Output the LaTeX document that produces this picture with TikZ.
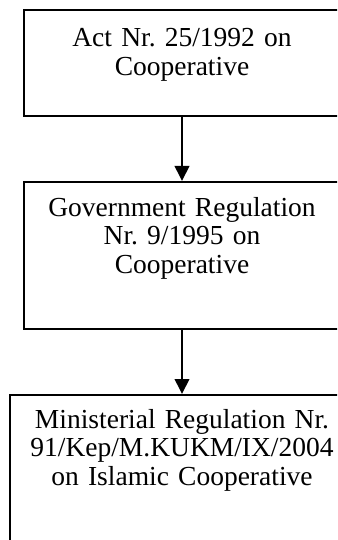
\documentclass[tikz,border=0pt]{standalone}
\usepackage{fontspec}
\setmainfont{Liberation Serif}
\usetikzlibrary{arrows.meta}
\begin{document}
\frenchspacing
\begin{tikzpicture}[x=1pt, y=-1pt,
    law/.style={draw, line width=2pt, inner sep=0pt, align=center,
                text width=316pt, anchor=base,
                font=\fontsize{27.5}{28.5}\selectfont},
    flow/.style={-{Triangle[width=14.5pt, length=15pt]}, line width=2pt}]
    \useasboundingbox (0,0) rectangle (337,540);
    \clip (0,0) rectangle (337,540);

    % Act
    \node[law, minimum width=316pt, text height=37pt, text depth=69pt]
        (act) at (182,47) {Act Nr. 25/1992 on\\Cooperative};
    % Government regulation
    \node[law, minimum width=316pt, text height=34pt, text depth=113pt]
        (gov) at (182,216) {Government Regulation\\Nr. 9/1995 on\\Cooperative};
    % Ministerial regulation (cut off at the bottom)
    \node[law, minimum width=344pt, text height=33pt, text depth=150pt]
        (min) at (182,428) {Ministerial Regulation Nr.\\91/Kep/M.KUKM/IX/2004\\on Islamic Cooperative};

    % Arrows
    \draw[flow] (act) -- (gov);
    \draw[flow] (gov) -- (min);
\end{tikzpicture}
\end{document}
